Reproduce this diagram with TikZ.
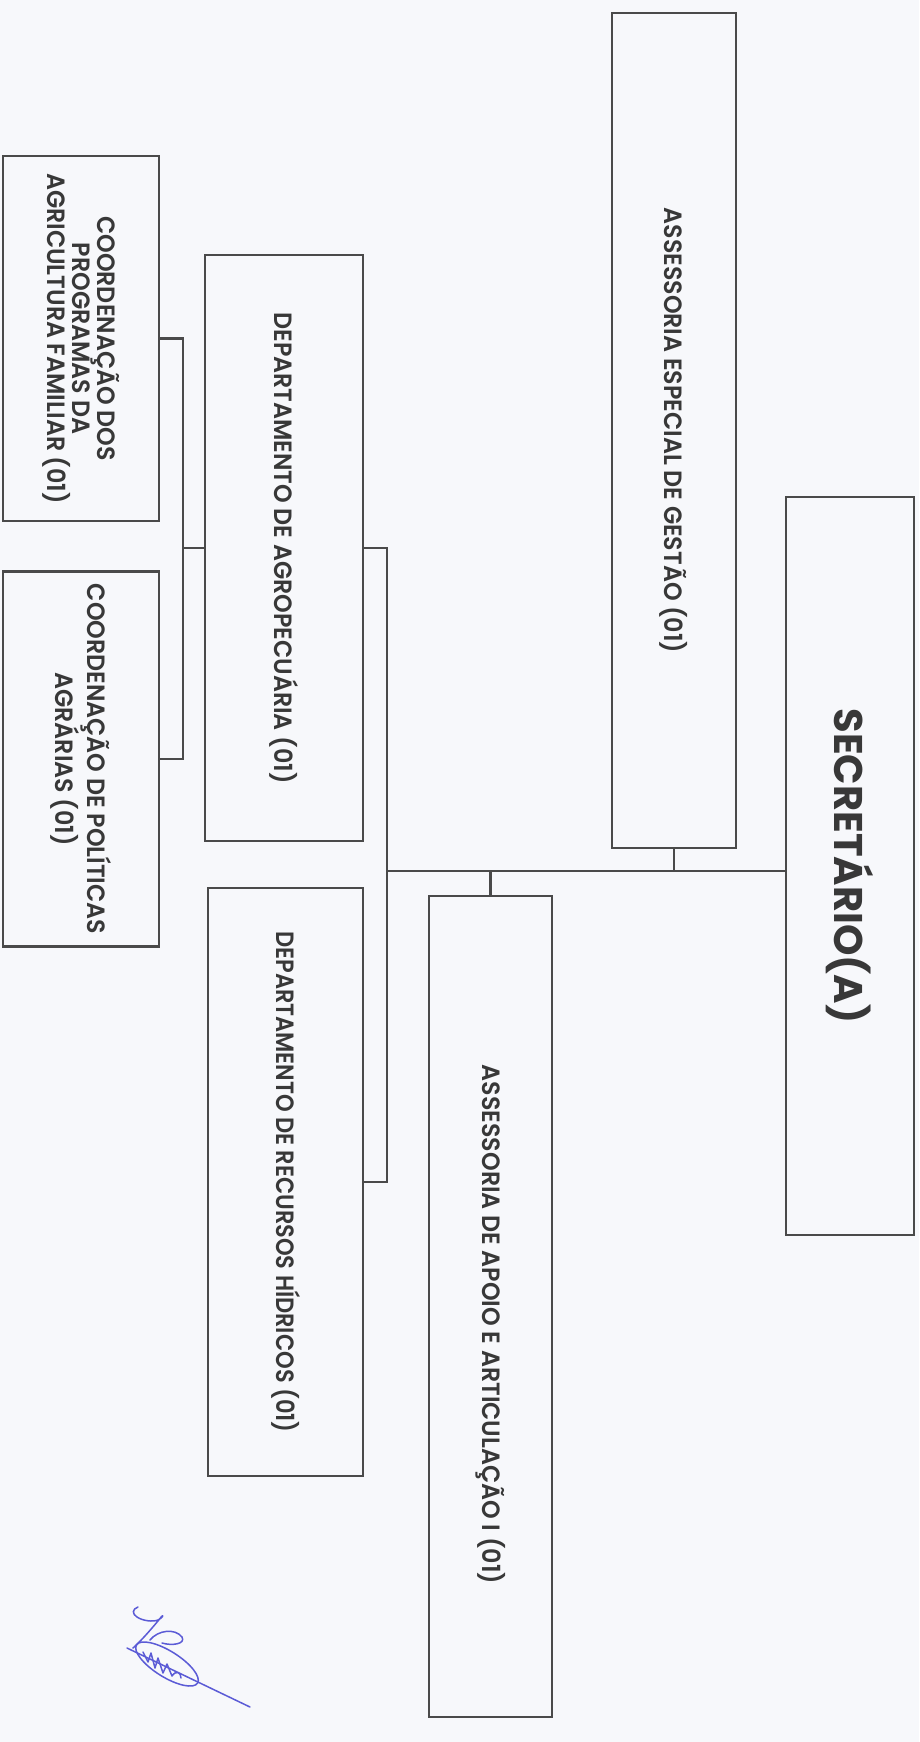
\documentclass[tikz,border=0pt]{standalone}
\usepackage{fontspec}
\setmainfont{Poppins}
\newfontfamily\boxfont[FakeStretch=0.95, BoldFont={Poppins SemiBold}]{Poppins}
\newfontfamily\boxfontn[FakeStretch=0.90, BoldFont={Poppins SemiBold}]{Poppins}
\newfontfamily\secfont[FakeStretch=1.0]{Poppins}
\definecolor{bgc}{HTML}{F7F8FB}
\definecolor{linec}{HTML}{4A4A4A}
\definecolor{textc}{HTML}{383838}
\definecolor{sigc}{HTML}{5B5BD6}
\begin{document}
\begin{tikzpicture}[x=1pt,y=-1pt,
  org/.style={draw=linec, line width=2.2pt, rotate=-90, inner sep=0pt, outer sep=0pt,
    align=center, text=textc, font=\boxfont\bfseries\fontsize{25}{25}\selectfont},
  conn/.style={draw=linec, line width=2.2pt},
  sig/.style={draw=sigc, line width=1.5pt, line cap=round, line join=round}]
\fill[bgc] (0,0) rectangle (919,1742);
\useasboundingbox (0,0) rectangle (919,1742);

\node[org, minimum width=738pt, minimum height=128pt,
  font=\secfont\bfseries\fontsize{40}{40}\selectfont] (sec) at (850,866) {SECRETÁRIO(A)};
\node[org, minimum width=835pt, minimum height=124pt] (aeg) at (674,430.5) {ASSESSORIA ESPECIAL DE GESTÃO (01)};
\node[org, minimum width=821pt, minimum height=123pt] (aaa) at (490.5,1306.5) {\hspace*{36pt}ASSESSORIA DE APOIO E ARTICULAÇÃO I (01)};
\node[org, minimum width=586pt, minimum height=158pt] (dag) at (284,548) {DEPARTAMENTO DE AGROPECUÁRIA (01)};
\node[org, minimum width=588pt, minimum height=155pt,
  font=\boxfontn\bfseries\fontsize{25}{25}\selectfont] (drh) at (285.5,1182) {DEPARTAMENTO DE RECURSOS HÍDRICOS (01)};
\node[org, minimum width=365pt, minimum height=156pt] (cpaf) at (81,338.5) {COORDENAÇÃO DOS\\PROGRAMAS DA\\AGRICULTURA FAMILIAR (01)};
\node[org, minimum width=375pt, minimum height=156pt] (cpa) at (81,759) {COORDENAÇÃO DE POLÍTICAS\\AGRÁRIAS (01)};

\coordinate (j) at (387,871);
\coordinate (k) at (183,548);
\draw[conn] (j) -- (j -| sec.south);
\draw[conn] (aeg.east) -- (aeg.east |- j);
\draw[conn] (aaa.west) -- (aaa.west |- j);
\draw[conn] (dag.north) -- (dag.north -| j) -- (drh.north -| j) -- (drh.north);
\draw[conn] (cpaf.north) -- (cpaf.north -| k) -- (cpa.north -| k) -- (cpa.north);
\draw[conn] (k) -- (dag.south);

% signature
\draw[sig] (138,1607) .. controls (132,1609) and (132,1614) .. (137,1617)
  .. controls (143,1621) and (153,1622) .. (158,1620)
  .. controls (162,1618) and (164,1615) .. (162,1616)
  .. controls (154,1626) and (142,1640) .. (133,1648);
\draw[sig] (150,1640) .. controls (158,1630) and (175,1628) .. (182,1637)
  .. controls (186,1644) and (172,1646) .. (162,1643);
\draw[sig, rotate around={-32:(167,1664)}] (167,1664) ellipse [x radius=36, y radius=13];
\draw[sig] (143,1652) -- (148,1662) -- (151,1653) -- (155,1668) -- (158,1658) -- (163,1673) -- (167,1664) -- (172,1676)
  .. controls (176,1670) and (181,1672) .. (181,1678);
\draw[sig] (127,1648) -- (250,1707);
\end{tikzpicture}
\end{document}
